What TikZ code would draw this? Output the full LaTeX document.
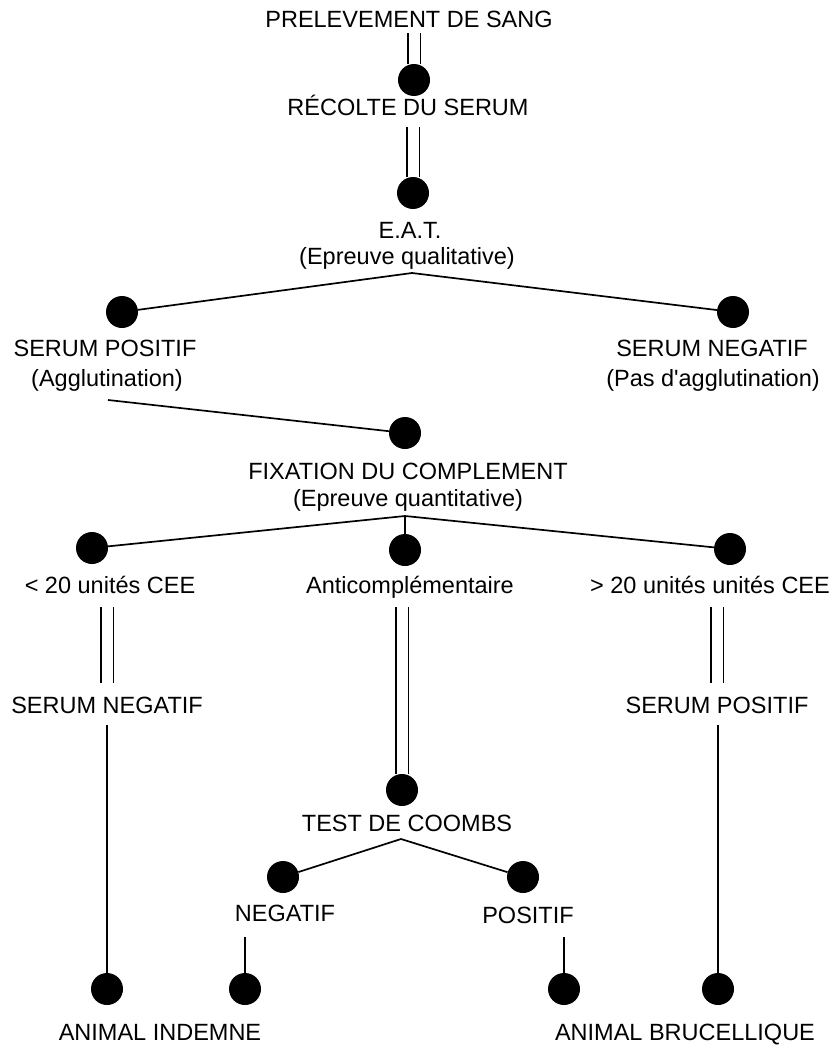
\documentclass[tikz,border=0pt]{standalone}
\usepackage{fontspec}
\setmainfont{Liberation Sans}

\begin{document}
\begin{tikzpicture}[x=1pt,y=-1pt,
  txt/.style={font=\fontsize{23.5}{28}\selectfont, inner sep=0pt, anchor=base},
  bullet/.style={circle, fill=black, inner sep=0pt, minimum size=32pt},
  branch/.style={line width=1.7pt},
  thin branch/.style={line width=1.3pt},
  dbl/.style={double, double distance=11pt, line width=1.5pt}]
  \useasboundingbox (0,0) rectangle (836,1046);

  % top chain
  \node[txt] (sang) at (409,28) {PRELEVEMENT DE SANG};
  \node[bullet] (d1) at (414,80) {};
  \node[txt] (recolte) at (408,116) {RÉCOLTE DU SERUM};
  \node[bullet] (d2) at (413,193) {};
  \node[txt] (eat) at (410,238) {E.A.T.};
  \node[txt] (eatq) at (407,264) {(Epreuve qualitative)};
  \coordinate (a1) at (412,273);

  % first split
  \node[bullet] (dpos) at (122,312) {};
  \node[bullet] (dneg) at (733,312) {};
  \node[txt] (pos) at (105,356) {SERUM POSITIF};
  \node[txt] (agglu) at (107,386) {(Agglutination)};
  \node[txt] (neg) at (712,356) {SERUM NEGATIF};
  \node[txt] (pasagglu) at (713,386) {(Pas d\textquotesingle agglutination)};
  \coordinate (p1) at (108,400);

  % complement
  \node[bullet] (dfix) at (405,433) {};
  \node[txt] (fix) at (408,479) {FIXATION DU COMPLEMENT};
  \node[txt] (fixq) at (408,506) {(Epreuve quantitative)};
  \coordinate (a2) at (405,516);

  \node[bullet] (dmoins) at (92,548) {};
  \node[bullet] (danti) at (405,550) {};
  \node[bullet] (dplus) at (730,549) {};
  \node[txt] (moins) at (110,593) {< 20 unités CEE};
  \node[txt] (anti) at (410,593) {Anticomplémentaire};
  \node[txt] (plus) at (710,593) {> 20 unités unités CEE};
  \node[txt] (sneg) at (107,713) {SERUM NEGATIF};
  \node[txt] (spos) at (717,713) {SERUM POSITIF};

  % coombs
  \node[bullet] (dcoombs) at (402,790) {};
  \node[txt] (coombs) at (407,831) {TEST DE COOMBS};
  \coordinate (a3) at (401,839);
  \node[bullet] (dcneg) at (283,877) {};
  \node[bullet] (dcpos) at (523,877) {};
  \node[txt] (cneg) at (285,921) {NEGATIF};
  \node[txt] (cpos) at (528,923) {POSITIF};

  % final
  \node[bullet] (f1) at (107,989) {};
  \node[bullet] (f2) at (245,989) {};
  \node[bullet] (f3) at (564,989) {};
  \node[bullet] (f4) at (718,989) {};
  \node[txt] (indemne) at (160,1040) {ANIMAL INDEMNE};
  \node[txt] (bruc) at (685,1040) {ANIMAL BRUCELLIQUE};

  % double links
  \draw[dbl, shorten <=5pt] (sang.south -| d1) -- (d1);
  \draw[dbl, shorten <=11pt] (recolte.south -| d2) -- (d2);
  \draw[dbl, shorten <=14pt, shorten >=13pt] (moins.south -| sneg) -- (sneg.north);
  \draw[dbl, shorten <=14pt, shorten >=13pt] (plus.south -| spos) -- (spos.north);
  \draw[dbl, shorten <=9pt] (anti.south -| dcoombs) -- (dcoombs);

  % branches
  \draw[branch] (a1) -- (dpos);
  \draw[branch] (a1) -- (dneg);
  \draw[branch] (p1) -- (dfix);
  \draw[branch] (a2) -- (dmoins);
  \draw[thin branch] (a2) -- (danti);
  \draw[branch] (a2) -- (dplus);
  \draw[branch] (a3) -- (dcneg);
  \draw[branch] (a3) -- (dcpos);

  % single links
  \draw[thin branch, shorten <=12pt] (sneg.south -| f1) -- (f1);
  \draw[thin branch, shorten <=12pt] (spos.south -| f4) -- (f4);
  \draw[thin branch, shorten <=16pt] (cneg.south -| f2) -- (f2);
  \draw[thin branch, shorten <=14pt] (cpos.south -| f3) -- (f3);
\end{tikzpicture}
\end{document}
